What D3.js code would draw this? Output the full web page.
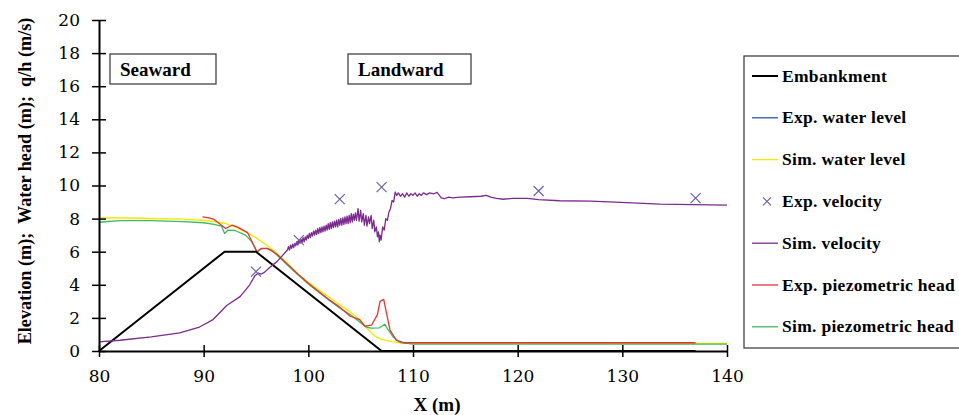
<!DOCTYPE html>
<html>
<head>
<meta charset="utf-8">
<script src="https://cdn.jsdelivr.net/npm/d3@7/dist/d3.min.js"></script>
<style>
  body { margin: 0; background: #fff; }
  svg { display: block; }
  .lab { font-family: 'Liberation Serif', 'Times New Roman', serif; font-weight: bold; fill: #000; }
</style>
</head>
<body>
<div id="chart"></div>
<script>
// data: [x (m), value]

var embankment = [[80, 0], [92, 6], [95, 6], [107, 0], [137, 0]]

var simWater = [
  [80, 8.05], [84, 8.02], [88, 7.97], [90, 7.9], [92, 7.72], [93, 7.5], [94, 7.2],
  [95, 6.85], [96, 6.4], [97, 5.9], [98, 5.3], [99, 4.65], [100, 4.15], [101, 3.7],
  [102, 3.25], [103, 2.8], [104, 2.35], [105, 1.85], [105.5, 1.45], [106, 1.1],
  [106.5, 0.85], [107, 0.7], [108, 0.57], [109, 0.48], [110, 0.46], [140, 0.46]
]

var simPiezo = [
  [80, 7.78], [82, 7.88], [85, 7.88], [88, 7.82], [90, 7.75], [91, 7.65], [91.7, 7.55],
  [92, 7.1], [92.3, 7.3], [93, 7.28], [94, 7.0], [94.6, 6.6], [95.1, 5.95], [95.4, 6.15],
  [96, 6.2], [96.5, 6.1], [97, 5.8], [98, 5.2], [99, 4.6], [100, 4.05], [101, 3.55],
  [102, 3.05], [103, 2.6], [104, 2.2], [105, 1.7], [105.5, 1.45], [106, 1.38],
  [106.8, 1.4], [107.3, 1.62], [107.6, 1.3], [108.1, 0.85], [108.8, 0.5], [110, 0.42],
  [140, 0.42]
]

var expPiezo = [
  [89.9, 8.1], [90.5, 8.05], [91, 7.95], [91.7, 7.6], [92.1, 7.4], [92.7, 7.6],
  [93.2, 7.5], [94.2, 7.15], [94.7, 6.5], [95.1, 6.0], [95.5, 6.2], [96.1, 6.2],
  [97, 5.85], [98, 5.25], [99, 4.65], [100, 4.1], [101, 3.6], [102, 3.1], [103, 2.65],
  [104, 2.1], [104.9, 1.9], [105.4, 1.5], [106.05, 1.57], [106.6, 2.2], [106.85, 3.0],
  [107.2, 3.12], [107.4, 2.5], [107.8, 1.27], [108.4, 0.66], [109.1, 0.5], [137, 0.5]
]

var simVelocity = [
  [80, 0.55], [82, 0.65], [85, 0.85], [87.7, 1.1], [89.6, 1.45], [90.9, 1.9],
  [92.2, 2.75], [93.5, 3.3], [94.4, 4.0], [94.9, 4.55], [95.2, 4.7], [95.5, 4.65],
  [95.8, 4.75], [96.3, 5.05], [97, 5.4], [97.5, 5.75],
  [98.0, 6.1], [98.1, 6.3], [98.2, 6.1], [98.3, 6.4], [98.4, 6.2], [98.5, 6.45],
  [98.6, 6.25], [98.7, 6.5], [98.8, 6.35], [98.9, 6.6], [99.0, 6.4], [99.1, 6.7],
  [99.2, 6.5], [99.3, 6.75], [99.4, 6.55], [99.5, 6.85], [99.6, 6.6], [99.7, 6.9],
  [99.8, 6.7], [99.9, 7.0], [100.0, 6.8], [100.1, 7.1], [100.2, 6.85], [100.3, 7.15],
  [100.4, 6.95], [100.5, 7.25], [100.6, 7.0], [100.7, 7.3], [100.8, 7.05], [100.9, 7.4],
  [101.0, 7.1], [101.1, 7.45], [101.2, 7.15], [101.3, 7.5], [101.4, 7.2], [101.5, 7.55],
  [101.6, 7.25], [101.7, 7.6], [101.8, 7.3], [101.9, 7.7], [102.0, 7.35], [102.1, 7.75],
  [102.2, 7.4], [102.3, 7.8], [102.4, 7.45], [102.5, 7.85], [102.6, 7.5], [102.7, 7.9],
  [102.8, 7.5], [102.9, 7.95], [103.0, 7.6], [103.1, 8.0], [103.2, 7.6], [103.3, 8.05],
  [103.4, 7.65], [103.5, 8.1], [103.6, 7.7], [103.7, 8.15], [103.8, 7.7], [103.9, 8.2],
  [104.0, 7.75], [104.1, 8.3], [104.2, 7.8], [104.3, 8.25], [104.4, 7.9], [104.5, 8.35],
  [104.6, 7.9], [104.75, 8.6], [104.85, 7.85], [105.0, 8.5], [105.1, 7.8], [105.25, 8.3],
  [105.35, 7.6], [105.5, 8.2], [105.6, 7.55], [105.75, 8.1], [105.85, 7.7], [106.0, 8.2],
  [106.1, 7.4], [106.25, 7.9], [106.35, 7.2], [106.5, 7.5], [106.6, 6.9], [106.7, 7.2],
  [106.78, 6.6], [106.85, 7.0], [106.95, 6.7], [107.1, 7.5], [107.25, 7.3], [107.4, 8.0],
  [107.55, 7.9], [107.7, 8.4], [107.85, 8.6], [108.0, 9.1], [108.15, 9.0], [108.3, 9.6],
  [108.45, 9.4], [108.6, 9.55], [108.8, 9.35], [109.0, 9.5], [109.2, 9.3], [109.4, 9.55],
  [109.6, 9.35], [109.8, 9.5], [110.0, 9.4], [110.2, 9.55], [110.4, 9.35], [110.6, 9.5],
  [110.8, 9.4], [111.0, 9.55], [111.3, 9.45], [111.6, 9.55], [112.0, 9.5],
  [112.3, 9.58], [112.7, 9.25], [113.0, 9.2], [113.4, 9.3], [113.8, 9.25],
  [114.5, 9.3], [115.5, 9.32], [116.5, 9.35], [117.0, 9.4], [117.5, 9.28],
  [118.0, 9.22], [118.6, 9.17], [119.5, 9.22], [120.9, 9.22], [122, 9.15],
  [124, 9.08], [127, 9.06], [130.4, 8.96], [133.6, 8.88], [136.8, 8.85], [140, 8.82]
]

var expVelocity = [[95, 4.8], [99.1, 6.7], [103, 9.18], [107, 9.9], [122, 9.67], [137, 9.24]]

var xTicks = [80, 90, 100, 110, 120, 130, 140]
var yTicks = [0, 2, 4, 6, 8, 10, 12, 14, 16, 18, 20]

var legendItems = [
  { name: 'Embankment', color: '#000', type: 'line', width: 2 },
  { name: 'Exp. water level', color: '#2a55b8', type: 'line', width: 1.3 },
  { name: 'Sim. water level', color: '#f2ea00', type: 'line', width: 1.3 },
  { name: 'Exp. velocity', color: '#7060a8', type: 'cross', width: 1.2 },
  { name: 'Sim. velocity', color: '#7b2a8e', type: 'line', width: 1.3 },
  { name: 'Exp. piezometric head', color: '#e3343a', type: 'line', width: 1.3 },
  { name: 'Sim. piezometric head', color: '#3cba5c', type: 'line', width: 1.3 }
]

var margin = { top: 20, left: 99, right: 232, bottom: 64 }
var width = 959 - margin.left - margin.right
var height = 415 - margin.top - margin.bottom

var svg = d3.select('#chart')
  .append('svg')
  .attr('width', 959)
  .attr('height', 415)

var g = svg.append('g')
  .attr('transform', 'translate(' + margin.left + ',' + margin.top + ')')

var xPositionScale = d3.scaleLinear().domain([80, 140]).range([0, width])
var yPositionScale = d3.scaleLinear().domain([0, 20]).range([height, 0])

var line = d3.line()
  .x(d => xPositionScale(d[0]))
  .y(d => yPositionScale(d[1]))

function drawLine(data, color, w) {
  g.append('path')
    .datum(data)
    .attr('d', line)
    .attr('fill', 'none')
    .attr('stroke', color)
    .attr('stroke-width', w)
    .attr('stroke-linejoin', 'round')
}

drawLine(simWater, '#f2ea00', 1.3)
drawLine(simPiezo, '#3cba5c', 1.3)
drawLine(expPiezo, '#e3343a', 1.3)
drawLine(embankment, '#000', 2)
drawLine(simVelocity, '#7b2a8e', 1.3)

g.selectAll('.xmark')
  .data(expVelocity)
  .enter()
  .append('path')
  .attr('class', 'xmark')
  .attr('d', d => {
    var cx = xPositionScale(d[0])
    var cy = yPositionScale(d[1])
    var s = 5
    return 'M' + (cx - s) + ',' + (cy - s) + 'L' + (cx + s) + ',' + (cy + s) +
      'M' + (cx - s) + ',' + (cy + s) + 'L' + (cx + s) + ',' + (cy - s)
  })
  .attr('stroke', '#7060a8')
  .attr('stroke-width', 1.2)

// axes with ticks crossing the axis line
var yAxis = d3.axisLeft(yPositionScale).tickValues(yTicks).tickSize(7).tickSizeOuter(0).tickPadding(12)
var yG = g.append('g').attr('class', 'axis y-axis').call(yAxis)
yG.attr('font-family', 'DejaVu Serif').attr('font-size', 17)
yG.selectAll('.tick line').attr('x1', 7).attr('stroke-width', 1.5)
yG.select('.domain').attr('stroke-width', 2)

var xAxis = d3.axisBottom(xPositionScale).tickValues(xTicks).tickSize(6).tickSizeOuter(0).tickPadding(13)
var xG = g.append('g')
  .attr('class', 'axis x-axis')
  .attr('transform', 'translate(0,' + height + ')')
  .call(xAxis)
xG.attr('font-family', 'DejaVu Serif').attr('font-size', 17)
xG.selectAll('.tick line').attr('y1', -6).attr('stroke-width', 1.5)
xG.select('.domain').attr('stroke-width', 2)
xG.raise()

// axis titles
svg.append('text')
  .attr('class', 'lab')
  .attr('transform', 'translate(31,181) rotate(-90)')
  .attr('text-anchor', 'middle')
  .attr('font-size', 18.2)
  .attr('xml:space', 'preserve')
  .text('Elevation (m);  Water head (m);  q/h (m/s)')

svg.append('text')
  .attr('class', 'lab')
  .attr('x', 437)
  .attr('y', 411)
  .attr('text-anchor', 'middle')
  .attr('font-size', 19)
  .text('X (m)')

// Seaward / Landward boxes
var boxes = [
  { name: 'Seaward', x: 110, w: 106 },
  { name: 'Landward', x: 348, w: 123 }
]
boxes.forEach(b => {
  svg.append('rect')
    .attr('x', b.x).attr('y', 54).attr('width', b.w).attr('height', 30)
    .attr('fill', '#fff').attr('stroke', '#333').attr('stroke-width', 1.2)
  svg.append('text')
    .attr('class', 'lab')
    .attr('x', b.x + 10).attr('y', 76)
    .attr('font-size', 19)
    .text(b.name)
})

// legend
var legend = svg.append('g').attr('transform', 'translate(744,56)')
legend.append('rect')
  .attr('width', 240).attr('height', 292)
  .attr('fill', '#fff').attr('stroke', '#333').attr('stroke-width', 1.2)

legendItems.forEach((d, i) => {
  var y = 20 + i * 41.8
  if (d.type === 'line') {
    legend.append('line')
      .attr('x1', 8).attr('x2', 34).attr('y1', y).attr('y2', y)
      .attr('stroke', d.color).attr('stroke-width', d.width)
  } else {
    var s = 4
    legend.append('path')
      .attr('d', 'M' + (23 - s) + ',' + (y - s) + 'L' + (23 + s) + ',' + (y + s) +
        'M' + (23 - s) + ',' + (y + s) + 'L' + (23 + s) + ',' + (y - s))
      .attr('stroke', d.color).attr('stroke-width', d.width)
  }
  legend.append('text')
    .attr('class', 'lab')
    .attr('x', 38).attr('y', y + 5.5)
    .attr('font-size', 17.5)
    .attr('letter-spacing', 0.3)
    .text(d.name)
})
</script>
</body>
</html>
